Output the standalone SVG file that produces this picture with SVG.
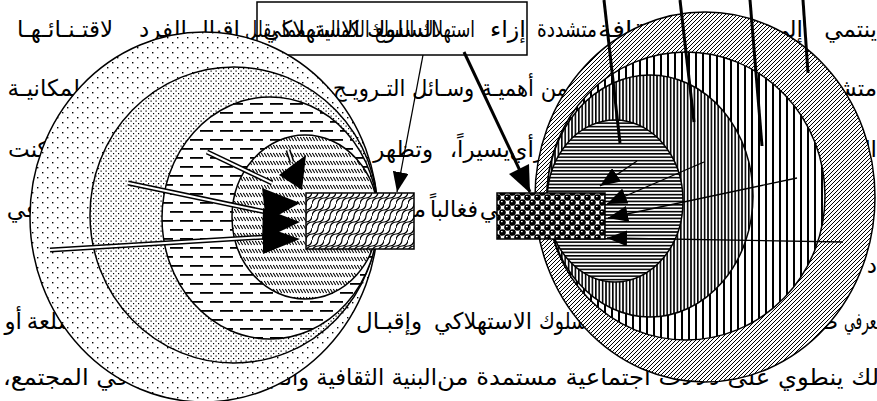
<svg xmlns="http://www.w3.org/2000/svg" width="877" height="401" viewBox="0 0 877 401">
<style>
.t{font-family:"DejaVu Sans","Liberation Sans",sans-serif;font-size:23px;fill:#000}
.o{stroke:#000;stroke-width:1.5}
.thin{stroke:#000;stroke-width:1.3;fill:none}
.thick{stroke:#000;stroke-width:3;fill:none}
.dbl{stroke:#000;stroke-width:5;fill:none}
.dblw{stroke:#fff;stroke-width:2;fill:none}
</style>
<defs>
<pattern id="pSparse" width="10" height="10" patternUnits="userSpaceOnUse"><rect width="10" height="10" fill="#fff"/><rect x="2" y="2" width="1.4" height="1.4" fill="#000"/><rect x="7" y="7" width="1.4" height="1.4" fill="#000"/></pattern>
<pattern id="pDense" width="5" height="5" patternUnits="userSpaceOnUse"><rect width="5" height="5" fill="#fff"/><rect x="0.5" y="0.5" width="1.2" height="1.2" fill="#000"/><rect x="3" y="3" width="1.2" height="1.2" fill="#000"/></pattern>
<pattern id="pDash" width="20" height="18" patternUnits="userSpaceOnUse"><rect width="20" height="18" fill="#fff"/><rect x="0" y="4" width="13" height="1.8" fill="#000"/><rect x="10" y="13" width="10" height="1.8" fill="#000"/><rect x="0" y="13" width="3" height="1.8" fill="#000"/></pattern>
<pattern id="pDiag" width="3" height="8" patternUnits="userSpaceOnUse"><rect width="3" height="8" fill="#fff"/><path d="M0.3,1 L2.7,5" stroke="#000" stroke-width="1.1"/></pattern>
<pattern id="pHatch" width="4" height="4" patternUnits="userSpaceOnUse"><rect width="4" height="4" fill="#fff"/><path d="M0,4 L4,0 M-1,1 L1,-1 M3,5 L5,3" stroke="#000" stroke-width="1"/></pattern>
<pattern id="pVert" width="7" height="10" patternUnits="userSpaceOnUse"><rect width="7" height="10" fill="#fff"/><rect x="2" y="0" width="2" height="10" fill="#000"/></pattern>
<pattern id="pVertD" width="3.4" height="10" patternUnits="userSpaceOnUse"><rect width="3.4" height="10" fill="#fff"/><rect x="0" y="0" width="1.6" height="10" fill="#000"/></pattern>
<pattern id="pHorz" width="10" height="3.4" patternUnits="userSpaceOnUse"><rect width="10" height="3.4" fill="#fff"/><rect x="0" y="0" width="10" height="1.6" fill="#000"/></pattern>
<pattern id="pScale" width="12" height="12" patternUnits="userSpaceOnUse"><rect width="12" height="12" fill="#fff"/><path d="M0,12 A6,6 0 0 1 6,6 A6,6 0 0 0 12,0 M6,12 A6,6 0 0 1 12,6 M0,6 A6,6 0 0 0 6,0" stroke="#000" stroke-width="1.2" fill="none"/></pattern>
<pattern id="pSphere" width="10" height="10" patternUnits="userSpaceOnUse"><rect width="10" height="10" fill="#fff"/><circle cx="2.5" cy="2.5" r="3.3" fill="#000"/><circle cx="7.5" cy="7.5" r="3.3" fill="#000"/><circle cx="-2.5" cy="7.5" r="3.3" fill="#000"/><circle cx="12.5" cy="2.5" r="3.3" fill="#000"/><circle cx="7.5" cy="-2.5" r="3.3" fill="#000"/><circle cx="2.5" cy="12.5" r="3.3" fill="#000"/><rect x="1" y="1" width="1.6" height="1.2" fill="#fff"/><rect x="6" y="6" width="1.6" height="1.2" fill="#fff"/></pattern>
<marker id="ah" viewBox="0 0 20 16" refX="20" refY="8" markerWidth="20" markerHeight="16" markerUnits="userSpaceOnUse" orient="auto"><path d="M0,0 L20,8 L0,16 Z" fill="#000"/></marker>
</defs>
<rect width="877" height="401" fill="#fff"/>

<g id="paragraph">
<text class="t" x="877" y="37" text-anchor="end">ينتمي</text>
<text class="t" x="803" y="37" text-anchor="end">إلى</text>
<text class="t" x="670" y="37" text-anchor="end" textLength="72" lengthAdjust="spacingAndGlyphs">الثقافة</text>
<text class="t" x="597" y="37" text-anchor="end" textLength="60" lengthAdjust="spacingAndGlyphs">متشددة</text>
<text class="t" x="526" y="37" text-anchor="end" textLength="36" lengthAdjust="spacingAndGlyphs">إزاء</text>
<text class="t" x="475" y="37" text-anchor="end" textLength="230" lengthAdjust="spacingAndGlyphs">استهلاك السلع الكمالية، مما يقلل&#x200F;</text>
<text class="t" x="240" y="37" text-anchor="end">إقبال</text>
<text class="t" x="187" y="37" text-anchor="end">الفرد</text>
<text class="t" x="113" y="37" text-anchor="end">لاقتـنـائـهـا</text>

<text class="t" x="877" y="96" text-anchor="end">متشابهة</text>
<text class="t" x="568" y="96" text-anchor="end" textLength="235" lengthAdjust="spacingAndGlyphs">من أهميـة وسـائل التـرويـج</text>
<text class="t" x="80" y="96" text-anchor="end">لمكانيـة</text>

<text class="t" x="877" y="157" text-anchor="end">ال</text>
<text class="t" x="545" y="157" text-anchor="end">رأي</text>
<text class="t" x="510" y="157" text-anchor="end">يسيراً،&#x200F;</text>
<text class="t" x="433" y="157" text-anchor="end">وتظهر</text>
<text class="t" x="70" y="157" text-anchor="end">تمكنت</text>

<text class="t" x="510" y="217" text-anchor="end">في</text>
<text class="t" x="478" y="217" text-anchor="end" textLength="48" lengthAdjust="spacingAndGlyphs">فغالباً</text>
<text class="t" x="426" y="217" text-anchor="end">ما</text>
<text class="t" x="37" y="217" text-anchor="end">في</text>

<text class="t" x="877" y="273" text-anchor="end">د</text>

<text class="t" x="884" y="329" text-anchor="end" textLength="40" lengthAdjust="spacingAndGlyphs">معرفي</text>
<text class="t" x="838" y="329" text-anchor="end">طبيعة</text>
<text class="t" x="587" y="329" text-anchor="end" textLength="48" lengthAdjust="spacingAndGlyphs">سلوك</text>
<text class="t" x="532" y="329" text-anchor="end" textLength="98" lengthAdjust="spacingAndGlyphs">الاستهلاكي</text>
<text class="t" x="422" y="329" text-anchor="end">وإقبـال</text>
<text class="t" x="77" y="329" text-anchor="end">سلعة</text>
<text class="t" x="22" y="329" text-anchor="end">أو</text>

<text class="t" x="890" y="385" text-anchor="end" textLength="453" lengthAdjust="spacingAndGlyphs">ذلك ينطوي على دلالات اجتماعية مستمدة من</text>
<text class="t" x="437" y="385" text-anchor="end" textLength="185" lengthAdjust="spacingAndGlyphs">البنية الثقافية والقيم</text>
<text class="t" x="128" y="385" text-anchor="end" textLength="125" lengthAdjust="spacingAndGlyphs">في المجتمع،&#x200F;</text>
</g>

<g id="label-box">
<rect x="257" y="2" width="270" height="53" fill="none" stroke="#000" stroke-width="1.5"/>
<text class="t" x="437" y="37" text-anchor="end" textLength="174" lengthAdjust="spacingAndGlyphs">السلوك الاستهلاكي</text>
</g>

<g id="left-rings">
<ellipse id="L1" cx="204" cy="217" rx="174" ry="185" fill="url(#pSparse)" class="o"/>
<ellipse id="L2" cx="234" cy="215" rx="144" ry="148" fill="url(#pDense)" class="o"/>
<ellipse id="L3" cx="270" cy="218" rx="108" ry="121" fill="url(#pDash)" class="o"/>
<ellipse id="L4" cx="305" cy="217" rx="73" ry="82" fill="url(#pDiag)" class="o"/>
</g>
<g id="left-box">
<rect x="306" y="193" width="108" height="56" fill="url(#pScale)" stroke="#000" stroke-width="1.5"/>
</g>

<g id="right-rings">
<ellipse id="R1" cx="705" cy="197" rx="170" ry="185" fill="url(#pHatch)" class="o"/>
<ellipse id="R2" cx="686" cy="196" rx="139" ry="144" fill="url(#pVert)" class="o"/>
<ellipse id="R3" cx="650" cy="196" rx="103" ry="121" fill="url(#pVertD)" class="o"/>
<ellipse id="R4" cx="615" cy="201" rx="68" ry="81" fill="url(#pHorz)" class="o"/>
</g>
<g id="right-box">
<rect x="497" y="193" width="108" height="46" fill="url(#pSphere)" stroke="#000" stroke-width="1.5"/>
</g>

<g id="connectors">
<line class="dbl" x1="207" y1="152" x2="272" y2="183"/><line class="dblw" x1="207" y1="152" x2="272" y2="183"/>
<line class="dbl" x1="128" y1="183" x2="266" y2="212"/><line class="dblw" x1="128" y1="183" x2="266" y2="212"/>
<line class="dbl" x1="50" y1="250" x2="266" y2="237"/><line class="dblw" x1="50" y1="250" x2="266" y2="237"/>
<line class="dbl" x1="288" y1="150" x2="292" y2="162"/><line class="dblw" x1="288" y1="150" x2="292" y2="162"/>
<polygon points="279,175 306,155 302,190" fill="#000"/>
<polygon points="262,188 300,203 266,222" fill="#000"/>
<polygon points="263,208 300,222 262,240" fill="#000"/>
<polygon points="263,226 300,239 263,254" fill="#000"/>
<line class="thin" x1="423" y1="55" x2="397" y2="192" marker-end="url(#ah)"/>
<line class="thick" x1="464" y1="52" x2="530" y2="192"/>
<polygon points="530,193 509,174 529,164" fill="#000"/>
<line class="thick" x1="604" y1="0" x2="620" y2="143"/>
<line class="thick" x1="680" y1="0" x2="694" y2="122"/>
<line class="thick" x1="750" y1="0" x2="762" y2="146"/>
<line class="thick" x1="803" y1="0" x2="808" y2="73"/>
<line class="thin" x1="637" y1="161" x2="600" y2="186" marker-end="url(#ah)"/>
<line class="thin" x1="704" y1="162" x2="607" y2="204" marker-end="url(#ah)"/>
<line class="thin" x1="797" y1="178" x2="608" y2="218" marker-end="url(#ah)"/>
<line class="thin" x1="843" y1="242" x2="607" y2="238" marker-end="url(#ah)"/>
</g>
</svg>
